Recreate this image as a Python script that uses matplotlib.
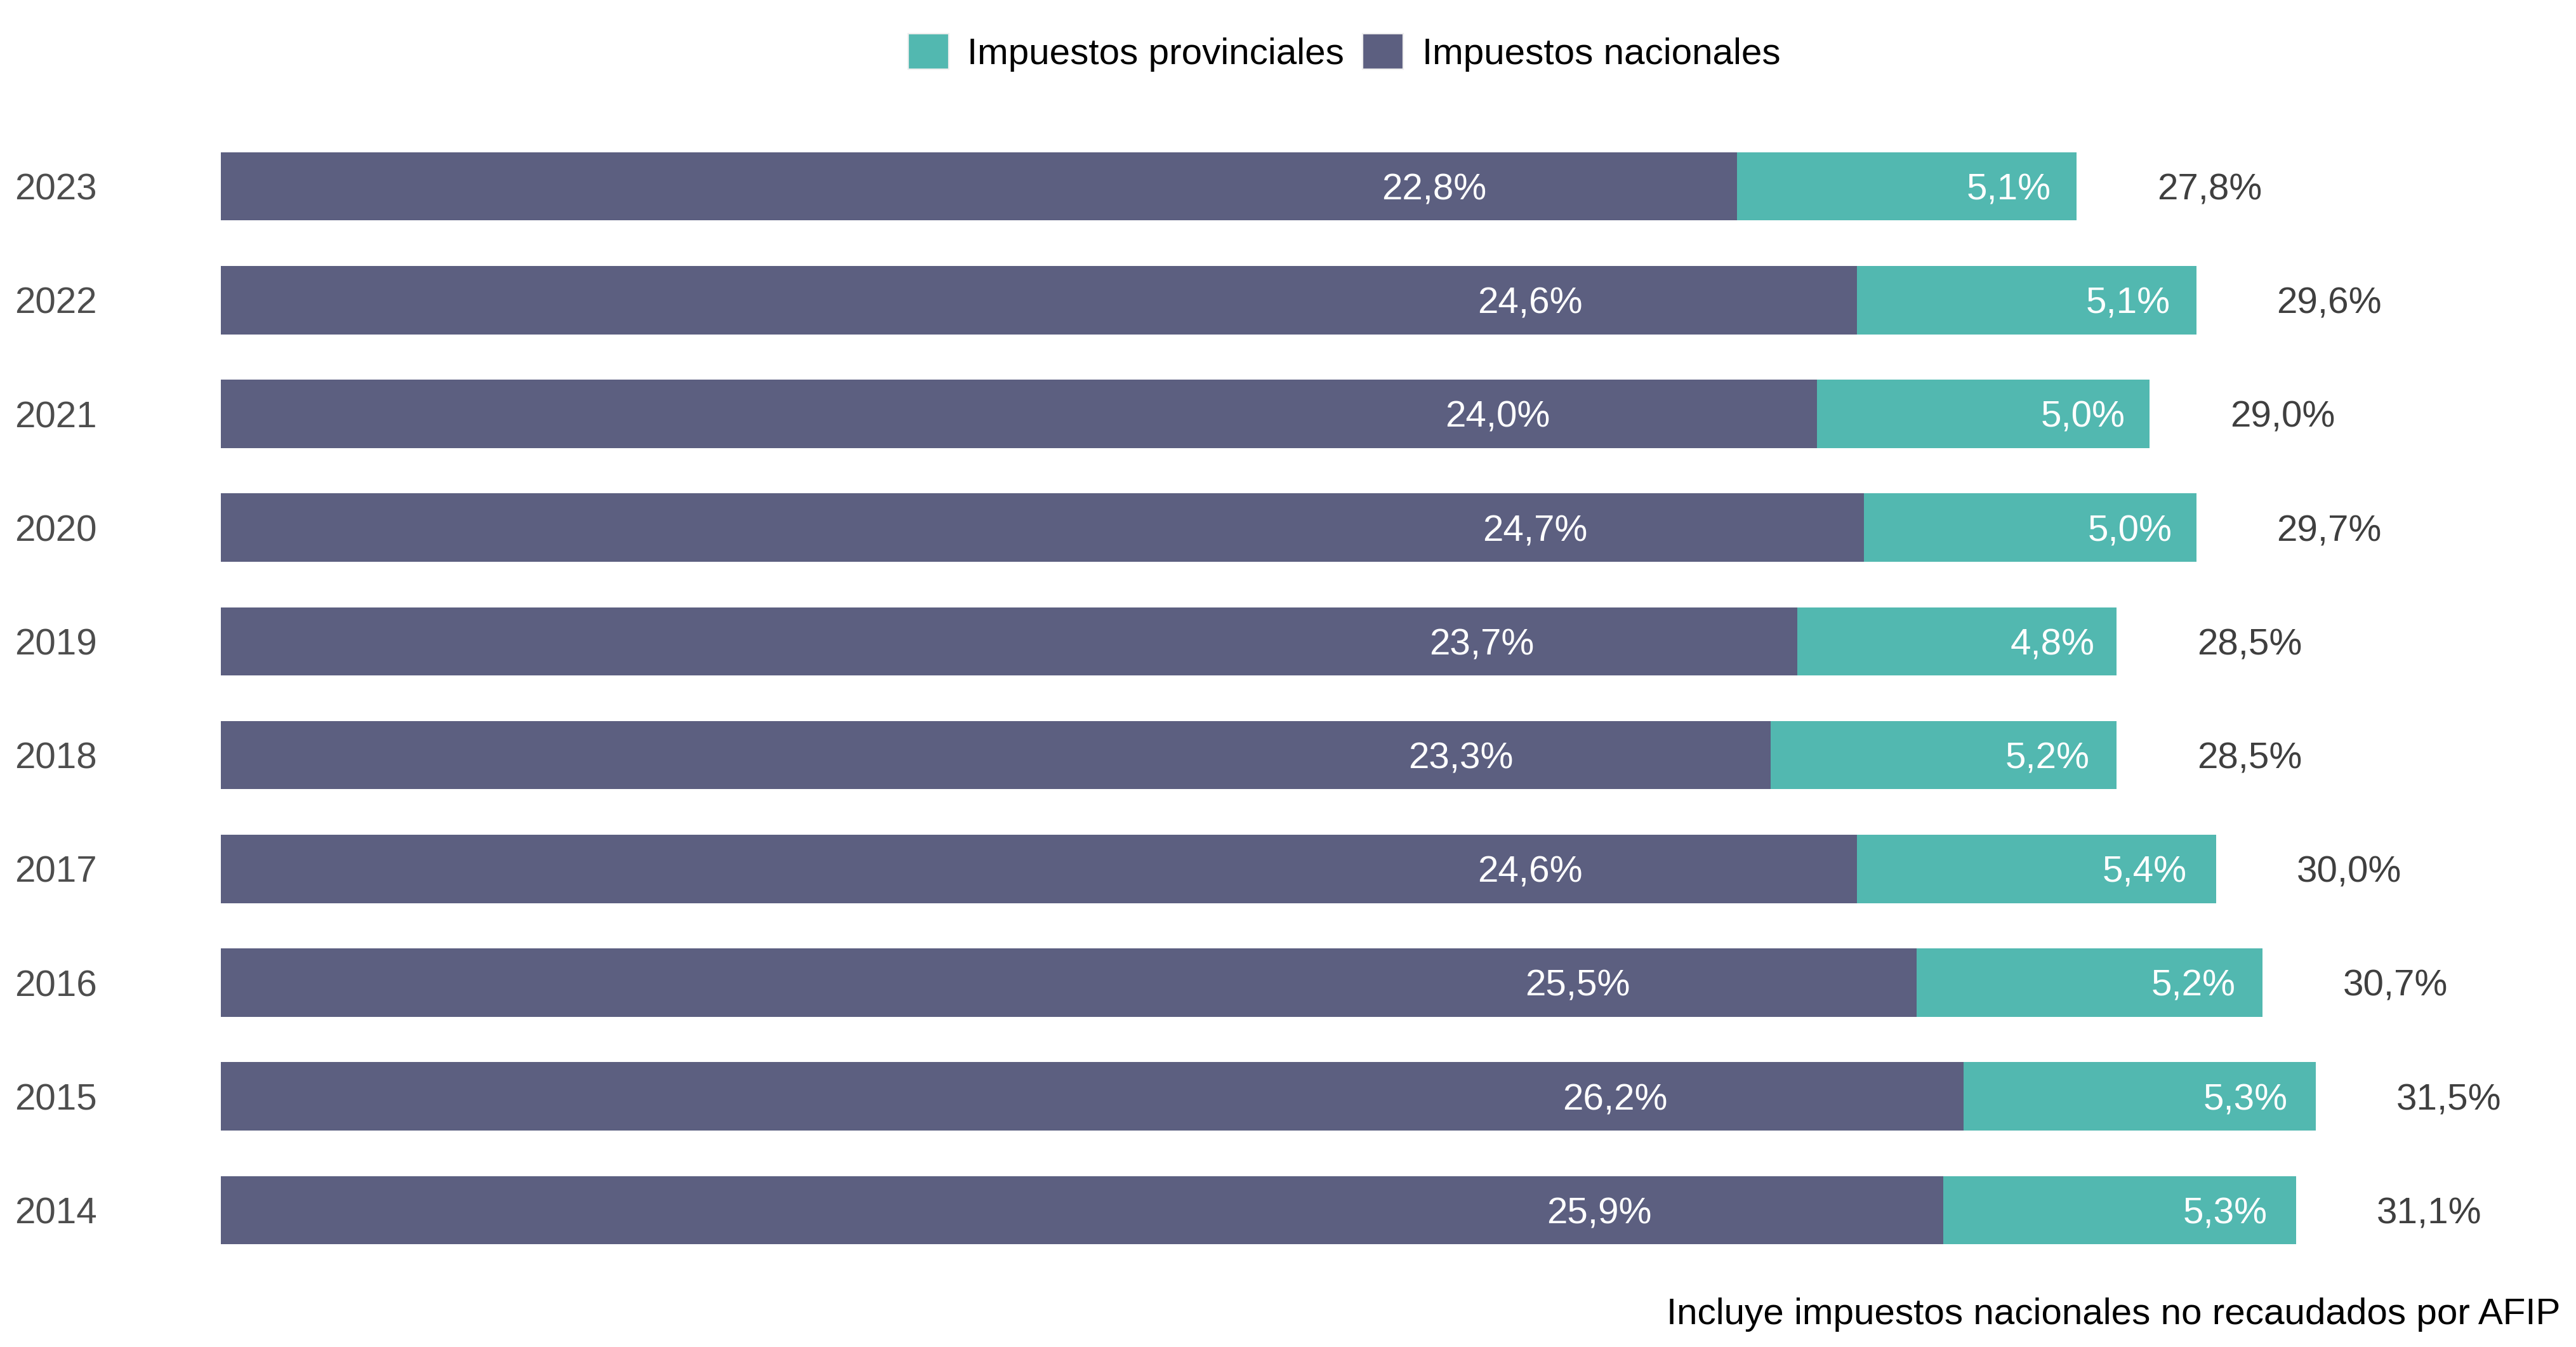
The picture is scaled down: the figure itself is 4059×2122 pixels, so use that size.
import matplotlib
matplotlib.use("Agg")
import matplotlib.pyplot as plt
from matplotlib.patches import Patch
import matplotlib.transforms as mtransforms

years = ["2023", "2022", "2021", "2020", "2019", "2018", "2017", "2016", "2015", "2014"]
nacionales = [22.8, 24.6, 24.0, 24.7, 23.7, 23.3, 24.6, 25.5, 26.2, 25.9]
provinciales = [5.1, 5.1, 5.0, 5.0, 4.8, 5.2, 5.4, 5.2, 5.3, 5.3]
totales = [27.8, 29.6, 29.0, 29.7, 28.5, 28.5, 30.0, 30.7, 31.5, 31.1]

series_labels = ["Impuestos provinciales", "Impuestos nacionales"]
footnote = "Incluye impuestos nacionales no recaudados por AFIP"

C_NAC = "#5c5f80"
C_PROV = "#52b8b0"

plt.rcParams["font.family"] = ["Liberation Sans", "DejaVu Sans"]

W, H = 4059, 2122
DPI = 200
fig = plt.figure(figsize=(W / DPI, H / DPI), dpi=DPI)

x0_px, x1_px = 348, 4034
top_px, bot_px = 204, 1996
ax = fig.add_axes([x0_px / W, 1 - bot_px / H, (x1_px - x0_px) / W, (bot_px - top_px) / H])

FS = 21
pos = list(range(len(years)))
ax.barh(pos, nacionales, height=0.6, color=C_NAC, linewidth=0)
ax.barh(pos, provinciales, left=nacionales, height=0.6, color=C_PROV, linewidth=0)

def fmt(v):
    return f"{v:.1f}".replace(".", ",") + "%"

trans = mtransforms.blended_transform_factory(fig.transFigure, ax.transData)
VA = "center_baseline"
for i, y in enumerate(years):
    n, p, t = nacionales[i], provinciales[i], totales[i]
    ax.text(n * 0.8, i, fmt(n), ha="center", va=VA, color="white", fontsize=FS)
    ax.text(n + p * 0.8, i, fmt(p), ha="center", va=VA, color="white", fontsize=FS)
    ax.text(n + p + 2.0, i, fmt(t), ha="center", va=VA, color="#3f3f3f", fontsize=FS)
    ax.text(23 / W, i, y, ha="left", va=VA, color="#4d4d4d", fontsize=FS, transform=trans)

ax.set_xlim(0, (x1_px - x0_px) / 104.8)
ax.set_ylim(len(years) - 0.5, -0.5)
ax.axis("off")

handles = [Patch(facecolor=C_PROV, edgecolor="#eeeeee", linewidth=0.8),
           Patch(facecolor=C_NAC, edgecolor="#eeeeee", linewidth=0.8)]
fig.legend(handles, series_labels, loc="center", bbox_to_anchor=(2118 / W, 1 - 83 / H),
           ncol=2, frameon=False, fontsize=FS, handlelength=1.1, handleheight=1.1,
           handletextpad=0.5, columnspacing=0.5, borderpad=0)

fig.text(4034 / W, 1 - 2071 / H, footnote, ha="right", va="center", color="black", fontsize=FS)

fig.savefig("out.png", dpi=DPI, facecolor="white")
